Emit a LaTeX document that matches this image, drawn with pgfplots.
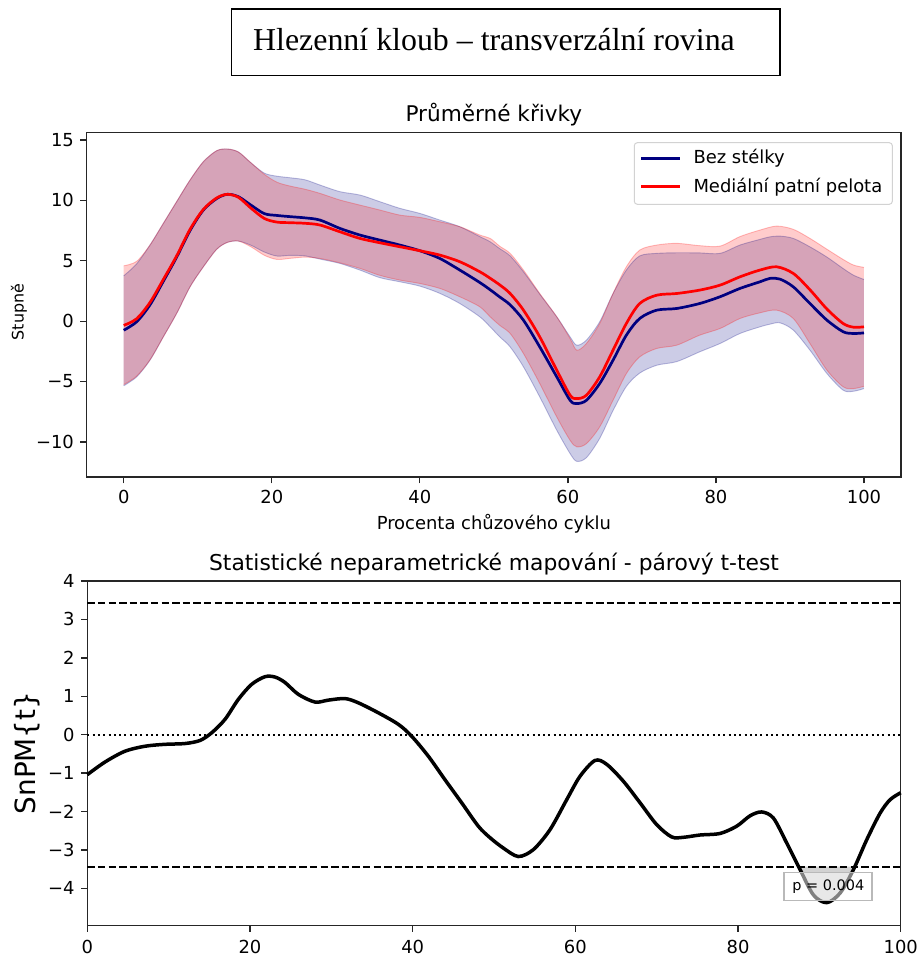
\documentclass[border=0pt]{standalone}
\usepackage{fontspec}
\setmainfont{DejaVu Sans}
\newfontfamily\serifttl{Liberation Serif}
\usepackage{pgfplots}
\usepackage{pgfplotstable}
\pgfplotsset{compat=1.18}
\usepgfplotslibrary{fillbetween}

\definecolor{navyc}{RGB}{0,0,128}
\definecolor{redc}{RGB}{255,0,0}
\definecolor{spine}{RGB}{38,38,38}

% Bez stélky: mean and band (mean +/- SD), degrees
\pgfplotstableread{
x     m      lo      hi
0     -0.75  -5.35   3.75
1.75  -0.05  -4.61   4.75
3.55   1.35  -3.23   6.30
5.35   3.30  -1.30   8.09
7.15   5.30   0.64   9.89
8.96   7.50   2.84  11.68
10.76  9.20   4.50  13.20
12.56 10.15   5.95  14.11
14.0  10.50   6.52  14.25
15.5  10.30   6.63  14.00
17.2   9.60   6.28  13.10
19.0   8.90   5.72  12.25
20.7   8.75   5.39  12.00
22.5   8.65   5.45  11.87
24.5   8.55   5.40  11.70
26.5   8.37   5.14  11.27
29.2   7.68   4.78  10.72
31.9   7.13   4.23  10.44
34.6   6.71   3.60   9.89
37.3   6.30   3.26   9.34
40.0   5.83   2.90   8.92
42.7   5.19   2.30   8.37
45.4   4.23   1.46   7.82
48.1   3.20   0.36   7.00
49.5   2.60  -0.47   6.57
50.8   2.00  -1.30   6.00
52.2   1.35  -2.13   5.40
54.0   0.08  -3.78   4.09
56.2  -2.13  -6.27   2.24
58.5  -4.61  -9.03   0.36
60.3  -6.55 -10.96  -1.30
61.2  -6.82 -11.60  -1.99
62.5  -6.55 -11.30  -1.57
64.3  -5.16  -9.70  -0.05
66.1  -3.23  -7.40   2.29
67.9  -1.16  -5.40   4.23
69.7   0.22  -4.30   5.40
72.0   0.91  -3.65   5.61
74.7   1.05  -3.35   5.66
77.8   1.46  -2.54   5.65
80.55  2.02  -1.85   5.61
83.25  2.71  -1.02   6.30
85.95  3.26  -0.47   6.77
87.3   3.54  -0.25   6.98
88.65  3.48  -0.14   7.04
90.45  2.84  -0.74   6.85
92.7   1.46  -2.40   6.15
95.0   0.08  -4.34   5.30
97.2  -0.88  -5.72   4.35
98.6  -1.02  -5.80   3.80
100   -0.97  -5.58   3.45
}\bezstelky

% Mediální patní pelota: mean and band (mean +/- SD), degrees
\pgfplotstableread{
x     m      lo      hi
0     -0.35  -5.25   4.58
1.75   0.20  -4.55   4.95
3.55   1.55  -3.20   6.30
5.35   3.45  -1.30   8.09
7.15   5.40   0.64   9.89
8.96   7.60   2.84  11.68
10.76  9.25   4.50  13.20
12.56 10.20   5.95  14.11
14.0  10.50   6.52  14.25
15.5  10.25   6.63  14.00
17.2   9.35   6.15  13.10
19.0   8.50   5.45  12.15
20.7   8.20   5.11  11.50
22.5   8.15   5.20  11.18
24.5   8.10   5.30  10.92
26.5   7.96   5.19  10.58
29.2   7.40   4.83  10.03
31.9   6.85   4.37   9.61
34.6   6.49   3.79   9.20
37.3   6.16   3.40   8.78
40.0   5.83   3.12   8.59
42.7   5.47   2.71   8.23
45.4   4.92   2.02   7.82
48.1   4.09   1.19   7.13
49.5   3.55   0.36   6.85
50.8   3.00  -0.35   6.20
52.2   2.29  -1.02   5.61
54.0   0.91  -2.68   4.23
56.2  -1.30  -5.16   2.29
58.5  -4.06  -7.93   0.36
60.3  -6.13  -9.86  -1.44
61.2  -6.41 -10.40  -2.40
62.5  -6.13 -10.14  -1.85
64.3  -4.61  -8.75  -0.19
66.1  -2.40  -6.55   2.29
67.9  -0.19  -4.34   4.50
69.7   1.46  -2.96   5.88
72.0   2.15  -2.26   6.30
74.7   2.29  -1.99   6.44
77.8   2.57  -1.16   6.25
80.55  2.98  -0.61   6.21
83.25  3.67   0.22   7.00
85.95  4.23   0.69   7.54
88.2   4.50   0.91   7.87
90.45  3.95   0.22   7.60
92.7   2.60  -1.85   6.85
95.0   1.00  -4.06   5.95
97.2  -0.20  -5.44   5.10
98.6  -0.50  -5.58   4.64
100   -0.47  -5.39   4.45
}\pelota

% SnPM{t} statistic along the gait cycle
\pgfplotstableread{
x      t
0      -1.04
2.18   -0.71
4.63   -0.43
7.09   -0.30
9.55   -0.25
12.0   -0.23
13.85  -0.15
15.29   0.05
16.93   0.40
18.57   0.92
20.2    1.31
21.85   1.51
23.08   1.50
24.3    1.36
25.95   1.05
28.0    0.85
29.63   0.90
31.68   0.94
33.32   0.83
35.78   0.57
38.24   0.27
39.88  -0.04
41.93  -0.56
43.97  -1.17
46.02  -1.77
48.07  -2.38
49.51  -2.68
51.15  -2.95
52.99  -3.17
54.84  -2.99
56.89  -2.47
58.94  -1.69
60.58  -1.08
62.42  -0.67
63.85  -0.77
65.9   -1.21
67.95  -1.77
70.0   -2.34
71.84  -2.66
73.28  -2.67
75.33  -2.61
77.79  -2.57
79.84  -2.38
81.48  -2.11
82.91  -2.01
84.35  -2.17
85.99  -2.82
87.63  -3.51
89.27  -4.17
90.91  -4.37
92.55  -4.12
94.19  -3.51
95.83  -2.73
97.47  -2.04
98.7   -1.69
100    -1.51
}\snpm

\pgfplotsset{
  mplaxis/.style={
    scale only axis, clip=false,
    tick align=outside, major tick length=6.3bp,
    xtick pos=lower, ytick pos=left,
    axis line style={spine, line width=1.3bp},
    tick style={spine, line width=1.3bp},
    ticklabel style={font=\fontsize{18}{21}\selectfont, text=black},
    yticklabel style={anchor=east, inner sep=0pt, xshift=-6.3bp},
  },
}

\begin{document}
\begin{tikzpicture}
% heading box
\draw[line width=1.2bp, black] (231.7bp,-9bp) rectangle (780bp,-75.7bp);
\node[anchor=base west, inner sep=0pt, font=\serifttl\fontsize{32}{37}\selectfont]
  at (253bp,-50bp) {Hlezenní kloub – transverzální rovina};

% mean curves with SD bands
\begin{axis}[mplaxis, name=top,
  at={(86.7bp,-132.7bp)}, anchor=north west,
  width=814.3bp, height=344.3bp,
  xmin=-5, xmax=105, ymin=-12.9, ymax=15.6,
  xtick={0,20,40,60,80,100}, xticklabels={0,20,40,60,80,100},
  ytick={-10,-5,0,5,10,15}, yticklabels={−10,−5,0,5,10,15},
  xticklabel style={anchor=north, inner sep=0pt, yshift=-6.3bp},
]
\addplot[name path=bhi, draw=navyc, draw opacity=0.25, line width=0.9bp, smooth] table[x=x,y=hi]{\bezstelky};
\addplot[name path=blo, draw=navyc, draw opacity=0.25, line width=0.9bp, smooth] table[x=x,y=lo]{\bezstelky};
\addplot[fill=navyc, fill opacity=0.2, draw=none] fill between[of=bhi and blo];
\addplot[name path=rhi, draw=redc, draw opacity=0.25, line width=0.9bp, smooth] table[x=x,y=hi]{\pelota};
\addplot[name path=rlo, draw=redc, draw opacity=0.25, line width=0.9bp, smooth] table[x=x,y=lo]{\pelota};
\addplot[fill=redc, fill opacity=0.2, draw=none] fill between[of=rhi and rlo];
\addplot[navyc, line width=2.7bp, smooth] table[x=x,y=m]{\bezstelky};
\addplot[redc, line width=2.7bp, smooth] table[x=x,y=m]{\pelota};
\end{axis}

\node[anchor=base, font=\fontsize{21.7}{26}\selectfont] at (493.9bp,-121.7bp) {Průměrné křivky};
\node[anchor=base, font=\fontsize{18}{21}\selectfont] at (493.9bp,-529.5bp) {Procenta chůzového cyklu};
\node[rotate=90, font=\fontsize{16}{19}\selectfont] at (19bp,-312bp) {Stupně};

% legend
\draw[gray!35, line width=1bp, fill=white, fill opacity=0.8, rounded corners=3bp]
  (634.3bp,-142.7bp) rectangle (892.3bp,-204.3bp);
\draw[navyc, line width=2.7bp] (641bp,-158.3bp) -- (680bp,-158.3bp);
\draw[redc, line width=2.7bp] (641bp,-186.7bp) -- (680bp,-186.7bp);
\node[anchor=west, inner sep=0pt, font=\fontsize{18}{21}\selectfont] at (693.3bp,-158.3bp) {Bez stélky};
\node[anchor=west, inner sep=0pt, font=\fontsize{18}{21}\selectfont] at (693.3bp,-186.7bp) {Mediální patní pelota};

% SnPM paired t-test
\begin{axis}[mplaxis, name=bot,
  at={(87.3bp,-581bp)}, anchor=north west,
  width=813.4bp, height=344.3bp,
  xmin=0, xmax=100, ymin=-4.96, ymax=4,
  xtick={0,20,40,60,80,100}, xticklabels={0,20,40,60,80,100},
  ytick={-4,-3,-2,-1,0,1,2,3,4}, yticklabels={−4,−3,−2,−1,0,1,2,3,4},
  xticklabel style={anchor=north, inner sep=0pt, yshift=-8.4bp},
]
\addplot[black, line width=1.8bp, dash pattern=on 2bp off 3.3bp] coordinates {(0,0) (100,0)};
\addplot[black, line width=2bp, dash pattern=on 7.4bp off 3.2bp] coordinates {(0,3.43) (100,3.43)};
\addplot[name path=thr, black, line width=2bp, dash pattern=on 7.4bp off 3.2bp] coordinates {(0,-3.43) (100,-3.43)};
\addplot[name path=tcurve, black, line width=3.5bp, smooth] table[x=x,y=t]{\snpm};
\addplot[fill=gray!35, draw=none] fill between[of=tcurve and thr, soft clip={domain=87.45:94.3}];
\node[draw=gray!55, line width=1.8bp, fill=white, fill opacity=0.5, text opacity=1,
  minimum width=88bp, minimum height=28bp, inner sep=0pt,
  font=\fontsize{14.5}{17}\selectfont] at (axis cs:91.1,-3.95) {p = 0.004};
\end{axis}

\node[anchor=base, font=\fontsize{21.9}{26}\selectfont] at (494bp,-570bp) {Statistické neparametrické mapování - párový t-test};
\node[rotate=90, font=\fontsize{28}{33}\selectfont] at (27bp,-753bp) {SnPM\{t\}};

\pgfresetboundingbox
\path[use as bounding box] (0bp,0bp) rectangle (918bp,-956bp);
\end{tikzpicture}
\end{document}
